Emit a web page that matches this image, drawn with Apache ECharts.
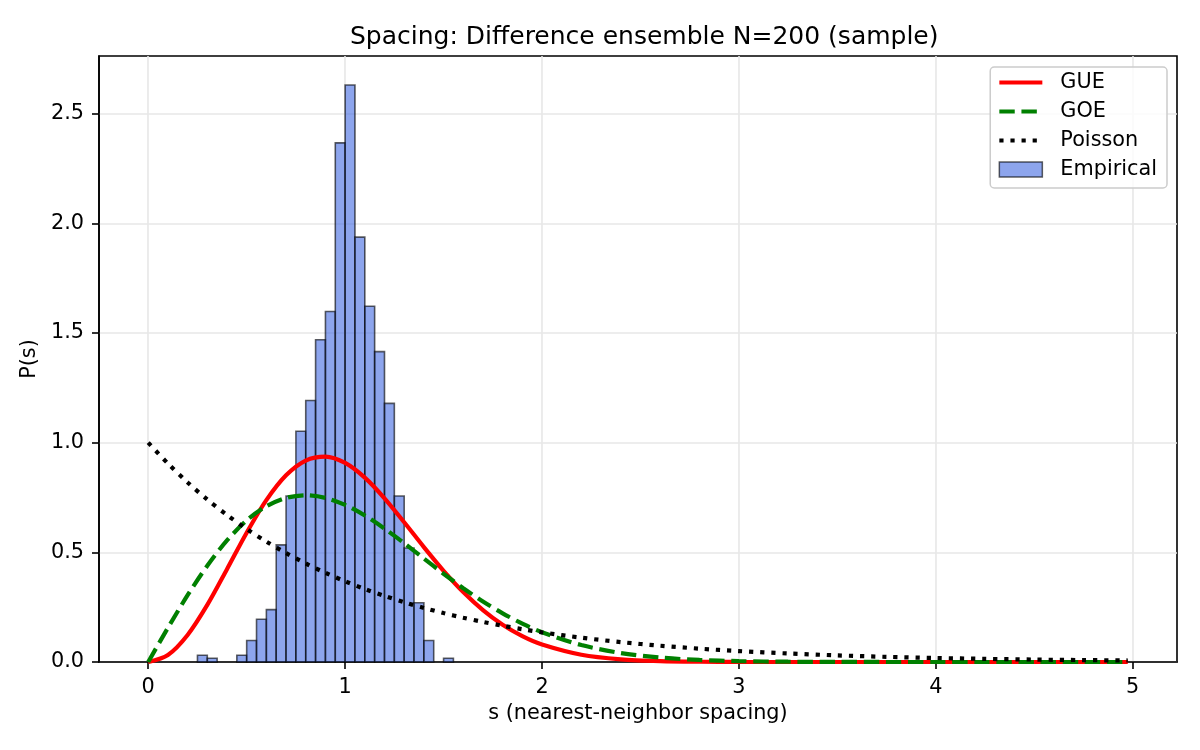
<!DOCTYPE html>
<html>
<head>
<meta charset="utf-8">
<script src="https://cdn.jsdelivr.net/npm/echarts@6/dist/echarts.min.js"></script>
<style>
html, body { margin: 0; padding: 0; background: #fff; }
#main { width: 1200px; height: 750px; }
</style>
</head>
<body>
<div id="main"></div>
<script>
// histogram bins (left edges), width 0.05
var binLeft = [0.25, 0.30, 0.35, 0.40, 0.45, 0.50, 0.55, 0.60, 0.65, 0.70, 0.75, 0.80, 0.85,
    0.90, 0.95, 1.00, 1.05, 1.10, 1.15, 1.20, 1.25, 1.30, 1.35, 1.40, 1.45, 1.50]
var binWidth = 0.05
var density = [0.031, 0.017, 0, 0, 0.031, 0.098, 0.195, 0.239, 0.534, 0.757, 1.052, 1.192, 1.469,
    1.598, 2.367, 2.631, 1.937, 1.622, 1.415, 1.179, 0.757, 0.520, 0.270, 0.098, 0, 0.017]

// curves
var sVals = [0, 0.1, 0.2, 0.3, 0.4, 0.5, 0.6, 0.7, 0.8, 0.9, 1.0, 1.1, 1.2, 1.3, 1.4, 1.5, 1.6,
    1.7, 1.8, 1.9, 2.0, 2.2, 2.4, 2.6, 2.8, 3.0, 3.25, 3.5, 3.75, 4.0, 4.25, 4.5, 4.75, 4.975]
var gue = [0, 0.032, 0.1233, 0.2602, 0.4232, 0.5896, 0.7381, 0.8514, 0.9186, 0.9364, 0.9076,
    0.8406, 0.7465, 0.6372, 0.5240, 0.4159, 0.3188, 0.2364, 0.1698, 0.1181, 0.0797,
    0.0331, 0.0122, 0.0040, 0.0012, 0.0003, 0, 0, 0, 0, 0, 0, 0, 0]
var goe = [0, 0.1559, 0.3044, 0.4391, 0.5541, 0.6454, 0.7104, 0.7483, 0.7602, 0.7483, 0.7162,
    0.6680, 0.6083, 0.5416, 0.4717, 0.4025, 0.3365, 0.2759, 0.2220, 0.1752, 0.1358,
    0.0772, 0.0409, 0.0202, 0.0093, 0.0040, 0.0013, 0.0004, 0.0001, 0, 0, 0, 0, 0]
var poisson = [1, 0.9048, 0.8187, 0.7408, 0.6703, 0.6065, 0.5488, 0.4966, 0.4493, 0.4066, 0.3679,
    0.3329, 0.3012, 0.2725, 0.2466, 0.2231, 0.2019, 0.1827, 0.1653, 0.1496, 0.1353,
    0.1108, 0.0907, 0.0743, 0.0608, 0.0498, 0.0388, 0.0302, 0.0235, 0.0183, 0.0143,
    0.0111, 0.0087, 0.0069]

var xTicks = [0, 1, 2, 3, 4, 5]
var yTicks = [0, 0.5, 1.0, 1.5, 2.0, 2.5]

var font = 'DejaVu Sans'
var histFill = 'rgba(65,105,225,0.6)'
var histEdge = 'rgba(0,0,0,0.62)'
var goeDash = [15.4, 6.7]
var poissonDash = [4.2, 6.9]

var pairs = (ys) => sVals.map((s, i) => [s, ys[i]])

var histData = []
for (var i = 0; i < binLeft.length; i++) {
    if (density[i] > 0) {
        histData.push([binLeft[i], binLeft[i] + binWidth, density[i]])
    }
}

var chart = echarts.init(document.querySelector('#main'))

var axisCommon = {
    type: 'value',
    axisLine: { show: true, onZero: false, lineStyle: { color: '#000', width: 1.6 } },
    axisTick: { show: true, length: 7, lineStyle: { color: '#000', width: 1.6 } },
    axisLabel: { color: '#000', fontSize: 20.8, fontFamily: font, margin: 15 },
    splitLine: { show: true, lineStyle: { color: '#e7e7e7', width: 1.6 } },
    nameLocation: 'middle',
    nameTextStyle: { color: '#000', fontSize: 20.8, fontFamily: font },
}

// legend entry for a line: no marker, same stroke as the curve
var lineEntry = (name, color, dash) => ({
    name: name,
    itemStyle: { opacity: 0 },
    lineStyle: { color: color, width: 4.2, type: dash || 'solid', cap: 'butt' },
})

chart.setOption({
    animation: false,
    backgroundColor: '#fff',
    title: {
        text: 'Spacing: Difference ensemble N=200 (sample)',
        left: 345,
        top: 20,
        textStyle: { color: '#000', fontSize: 25, fontWeight: 'normal', fontFamily: font },
    },
    grid: {
        left: 99, right: 23, top: 56, bottom: 88,
        show: true, borderColor: '#000', borderWidth: 1.6,
    },
    legend: {
        orient: 'vertical',
        right: 33,
        top: 67,
        padding: [5, 10, 8, 7],
        itemGap: 8,
        itemWidth: 43,
        itemHeight: 15,
        backgroundColor: 'rgba(255,255,255,0.8)',
        borderColor: '#cccccc',
        borderWidth: 1.5,
        borderRadius: 4,
        textStyle: { color: '#000', fontSize: 20.8, fontFamily: font, padding: [0, 0, 0, 13] },
        data: [
            lineEntry('GUE', '#ff0000'),
            lineEntry('GOE', '#008000', goeDash),
            lineEntry('Poisson', '#000', poissonDash),
            { name: 'Empirical', icon: 'rect',
              itemStyle: { color: histFill, borderColor: histEdge, borderWidth: 1.5 } },
        ],
    },
    xAxis: Object.assign({}, axisCommon, {
        min: -0.25,
        max: 5.225,
        name: 's (nearest-neighbor spacing)',
        nameGap: 40,
        axisTick: Object.assign({}, axisCommon.axisTick, { customValues: xTicks }),
        axisLabel: Object.assign({}, axisCommon.axisLabel, { customValues: xTicks }),
    }),
    yAxis: Object.assign({}, axisCommon, {
        min: 0,
        max: 2.763,
        name: 'P(s)',
        nameGap: 52,
        axisTick: Object.assign({}, axisCommon.axisTick, { customValues: yTicks }),
        axisLabel: Object.assign({}, axisCommon.axisLabel, {
            customValues: yTicks,
            formatter: (v) => v.toFixed(1),
        }),
    }),
    series: [
        {
            name: 'Empirical',
            type: 'custom',
            z: 1,
            encode: { x: [0, 1], y: 2 },
            itemStyle: { color: histFill, borderColor: histEdge },
            renderItem: (params, api) => {
                var p0 = api.coord([api.value(0), api.value(2)])
                var p1 = api.coord([api.value(1), 0])
                return {
                    type: 'rect',
                    shape: { x: p0[0], y: p0[1], width: p1[0] - p0[0], height: p1[1] - p0[1] },
                    style: { fill: histFill, stroke: histEdge, lineWidth: 1.6 },
                }
            },
            data: histData,
        },
        {
            name: 'GUE',
            type: 'line',
            z: 3,
            smooth: 0.3,
            symbol: 'none',
            color: '#ff0000',
            lineStyle: { color: '#ff0000', width: 4.2 },
            data: pairs(gue),
        },
        {
            name: 'GOE',
            type: 'line',
            z: 3,
            smooth: 0.3,
            symbol: 'none',
            color: '#008000',
            lineStyle: { color: '#008000', width: 4.2, type: goeDash },
            data: pairs(goe),
        },
        {
            name: 'Poisson',
            type: 'line',
            z: 3,
            smooth: 0.3,
            symbol: 'none',
            color: '#000',
            lineStyle: { color: '#000', width: 4.2, type: poissonDash, cap: 'butt' },
            data: pairs(poisson),
        },
    ],
})
</script>
</body>
</html>
